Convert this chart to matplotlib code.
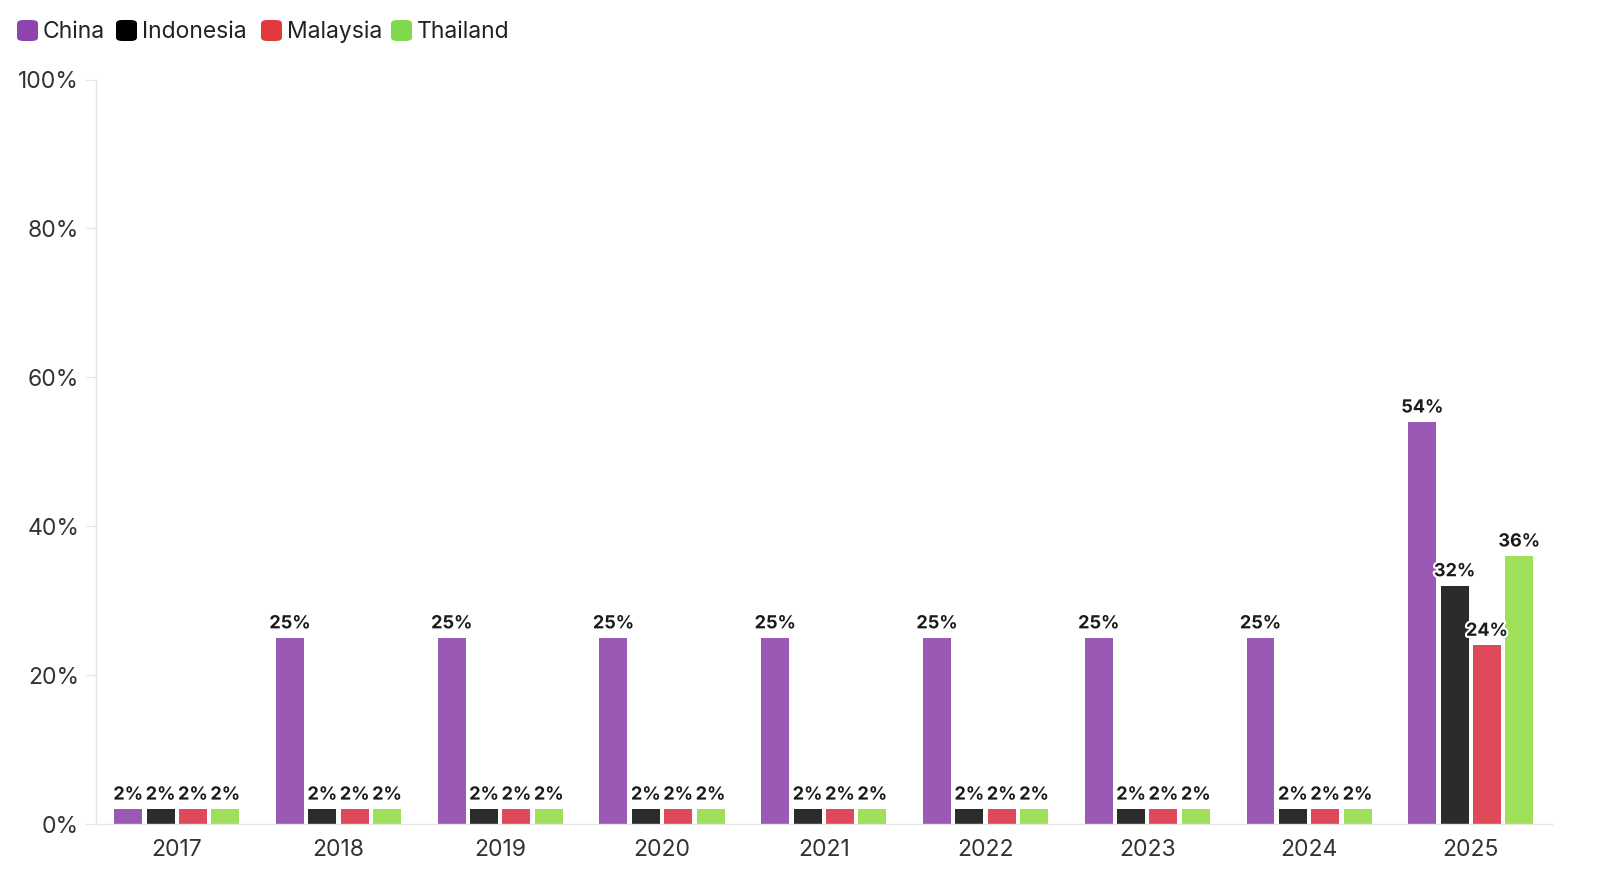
import matplotlib
matplotlib.use("Agg")
import matplotlib.pyplot as plt
import matplotlib.patheffects as pe
from matplotlib.patches import FancyBboxPatch
import numpy as np

years = ["2017", "2018", "2019", "2020", "2021", "2022", "2023", "2024", "2025"]
series_names = ["China", "Indonesia", "Malaysia", "Thailand"]
china = [2, 25, 25, 25, 25, 25, 25, 25, 54]
indonesia = [2, 2, 2, 2, 2, 2, 2, 2, 32]
malaysia = [2, 2, 2, 2, 2, 2, 2, 2, 24]
thailand = [2, 2, 2, 2, 2, 2, 2, 2, 36]
y_ticks = [0, 20, 40, 60, 80, 100]

bar_colors = ["#9b59b6", "#2b2b2b", "#de4a5a", "#9fdf5a"]
legend_colors = ["#8e44ad", "#000000", "#e03a3e", "#7fd94a"]

plt.rcParams['font.family'] = ['Inter', 'DejaVu Sans']

fig = plt.figure(figsize=(15.98, 8.80), dpi=100)
ax = fig.add_axes([0.060, 0.0636, 0.911, 0.846])

x = np.arange(len(years))
data = [china, indonesia, malaysia, thailand]
pitch = 0.2
width = 0.173
for i, (vals, col) in enumerate(zip(data, bar_colors)):
    offs = (i - 1.5) * pitch
    bars = ax.bar(x + offs, vals, width=width, color=col, zorder=2)
    for b, v in zip(bars, vals):
        ax.annotate(f"{v}%", (b.get_x() + b.get_width() / 2, v),
                    xytext=(0, 4), textcoords="offset points",
                    ha="center", va="bottom", fontsize=13, fontweight="bold",
                    color="#1a1a1a", zorder=5,
                    path_effects=[pe.withStroke(linewidth=3, foreground="white")])

ax.set_xlim(-0.5, len(years) - 0.5)
ax.set_ylim(0, 100)
ax.set_yticks(y_ticks)
ax.set_yticklabels([f"{t}%" for t in y_ticks])
ax.set_xticks(x)
ax.set_xticklabels(years)
ax.tick_params(axis="y", length=8, color="#e6e6e6", labelsize=16.5, labelcolor="#333333", pad=4)
ax.tick_params(axis="x", length=0, labelsize=16.5, labelcolor="#333333", pad=10.5)
for s in ["top", "right"]:
    ax.spines[s].set_visible(False)
for s in ["left", "bottom"]:
    ax.spines[s].set_color("#e6e6e6")
    ax.spines[s].set_linewidth(1)

# legend
lx = [17, 116, 261, 391]
for name, col, px in zip(series_names, legend_colors, lx):
    x0 = px / 1598
    y0 = 1 - 41 / 880
    fig.patches.append(FancyBboxPatch((x0, y0), 21 / 1598, 21 / 880,
                                      boxstyle="round,pad=0,rounding_size=0.004",
                                      transform=fig.transFigure, facecolor=col,
                                      edgecolor="none"))
    fig.text((px + 26) / 1598, 1 - 31.5 / 880, name, fontsize=16.5, color="#222222",
             va="center", ha="left")

fig.savefig("out.png", dpi=100, facecolor="white")
